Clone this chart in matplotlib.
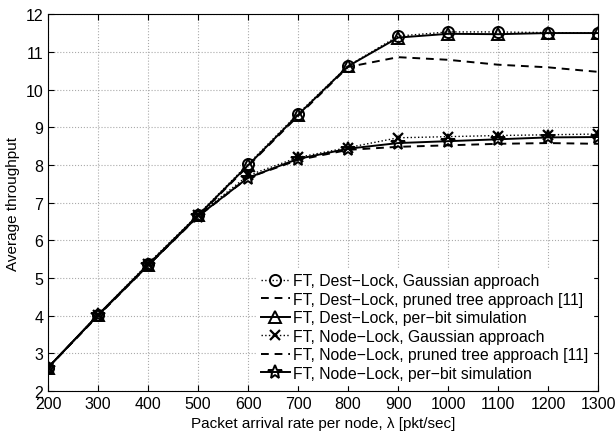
import numpy as np
import matplotlib.pyplot as plt

plt.rcParams['font.family'] = ['Liberation Sans', 'DejaVu Sans']

# Datos
lam = [200, 300, 400, 500, 600, 700, 800, 900, 1000, 1100, 1200, 1300]
dest_gauss = [2.62, 4.02, 5.38, 6.68, 8.02, 9.36, 10.63, 11.42, 11.53, 11.53, 11.51, 11.50]
dest_pruned = [2.62, 4.00, 5.34, 6.64, 7.97, 9.30, 10.60, 10.86, 10.79, 10.66, 10.59, 10.47]
dest_sim = [2.62, 4.02, 5.35, 6.66, 7.99, 9.33, 10.62, 11.38, 11.48, 11.47, 11.50, 11.50]
node_gauss = [2.62, 4.02, 5.36, 6.67, 7.72, 8.20, 8.46, 8.72, 8.75, 8.78, 8.80, 8.82]
node_pruned = [2.62, 4.00, 5.33, 6.63, 7.66, 8.13, 8.40, 8.48, 8.52, 8.56, 8.58, 8.56]
node_sim = [2.62, 4.01, 5.33, 6.64, 7.66, 8.16, 8.43, 8.58, 8.63, 8.68, 8.73, 8.74]

fig, ax = plt.subplots(figsize=(6.16, 4.35), dpi=100)
fig.subplots_adjust(left=0.078, right=0.971, top=0.965, bottom=0.099)

ax.plot(lam, dest_gauss, color='k', ls=':', lw=1, marker='o', ms=8, mfc='none', mew=1.4,
        label='FT, Dest\u2212Lock, Gaussian approach')
ax.plot(lam, dest_pruned, color='k', ls='--', lw=1.4, dashes=(4, 3),
        label='FT, Dest\u2212Lock, pruned tree approach [11]')
ax.plot(lam, dest_sim, color='k', ls='-', lw=1.4, marker='^', ms=8, mfc='none', mew=1.4,
        label='FT, Dest\u2212Lock, per\u2212bit simulation')
ax.plot(lam, node_gauss, color='k', ls=':', lw=1, marker='x', ms=7, mew=1.6,
        label='FT, Node\u2212Lock, Gaussian approach')
ax.plot(lam, node_pruned, color='k', ls='--', lw=1.4, dashes=(4, 3),
        label='FT, Node\u2212Lock, pruned tree approach [11]')
ax.plot(lam, node_sim, color='k', ls='-', lw=1.4, marker='*', ms=10, mfc='none', mew=1.4,
        label='FT, Node\u2212Lock, per\u2212bit simulation')

ax.set_xlim(200, 1300)
ax.set_ylim(2, 12)
ax.set_xticks(lam)
ax.set_yticks(range(2, 13))
ax.tick_params(direction='in', top=True, right=True, labelsize=11.5, length=4)
ax.grid(True, ls=':', color='#aaaaaa', lw=0.8)
ax.set_xlabel('Packet arrival rate per node, \u03bb [pkt/sec]', fontsize=11)
ax.set_ylabel('Average throughput', fontsize=11)

leg = ax.legend(loc='lower right', fontsize=11.3, frameon=True, fancybox=False,
                handlelength=1.8, handletextpad=0.2, labelspacing=0.22,
                borderaxespad=0.0, borderpad=0.3, bbox_to_anchor=(0.99, 0.015))
leg.get_frame().set_edgecolor('white')
leg.get_frame().set_alpha(1)

plt.savefig('out.png')
